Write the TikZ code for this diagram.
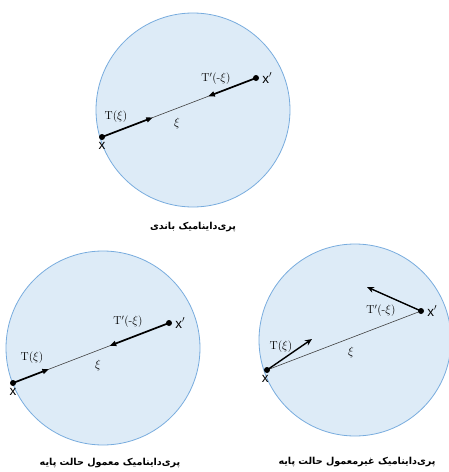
\documentclass[tikz,border=0pt]{standalone}
\usepackage{fontspec}
\setsansfont{Liberation Sans}
\newfontfamily\arabicfont[Script=Arabic]{DejaVu Sans}
\TeXXeTstate=1
\usetikzlibrary{arrows.meta,calc,positioning}

\definecolor{diskfill}{RGB}{221,235,247}
\definecolor{diskline}{RGB}{120,172,222}

\tikzset{
  disk/.style={fill=diskfill,draw=diskline,line width=0.8pt},
  bond/.style={line width=0.6pt,draw=black!75},
  force/.style={line width=1.7pt},
  tipmid/.style={-{Triangle[length=6.5pt,width=5pt]}},
  tipend/.style={-{Stealth[length=7pt,width=6pt]}},
  pt/.style={circle,fill=black,inner sep=0pt,minimum size=6pt},
  ptlabel/.style={font=\sffamily\fontsize{13.5}{15}\selectfont,inner sep=1pt},
  flabel/.style={font=\fontsize{11.5}{13}\selectfont,inner sep=1pt},
  xilabel/.style={font=\fontsize{13}{15}\selectfont,inner sep=1pt},
  caption/.style={font=\arabicfont\bfseries\fontsize{9.6}{11}\selectfont}
}

\begin{document}
\begin{tikzpicture}[x=1pt,y=-1pt]
  \useasboundingbox (0,0) rectangle (449,472);

  % Bond-based (top)
  \draw[disk] (193,110) circle (97);
  \coordinate (a) at (102,137);
  \coordinate (ap) at (256,78);
  \draw[bond] (a) -- (ap);
  \draw[force,tipmid] (a) -- ($(a)!0.33!(ap)$);
  \draw[force,tipmid] (ap) -- ($(a)!0.69!(ap)$);
  \node[pt] (adot) at (a) {};
  \node[pt] (apdot) at (ap) {};
  \node[ptlabel,below=1pt of adot] (ax) {x};
  \node[ptlabel,right=2pt of apdot] (apx) {x$^{\prime}$};
  \node[flabel] (aT) at (116,117) {T($\xi$)};
  \node[xilabel] (axi) at (177,123) {$\xi$};
  \node[flabel] (aTp) at (216,79) {T$^{\prime}$(-$\xi$)};
  \node[caption] (capa) at (193,227) {\beginR پری‌داینامیک باندی\endR};

  % Ordinary state-based (bottom left)
  \draw[disk] (103,348) circle (97);
  \coordinate (b) at (13,383);
  \coordinate (bp) at (169,323);
  \draw[bond] (b) -- (bp);
  \draw[force,tipmid] (b) -- ($(b)!0.23!(bp)$);
  \draw[force,tipmid] (bp) -- ($(b)!0.62!(bp)$);
  \node[pt] (bdot) at (b) {};
  \node[pt] (bpdot) at (bp) {};
  \node[ptlabel,below=1pt of bdot] (bx) {x};
  \node[ptlabel,right=2pt of bpdot] (bpx) {x$^{\prime}$};
  \node[flabel] (bT) at (32,358) {T($\xi$)};
  \node[xilabel] (bxi) at (98,365) {$\xi$};
  \node[flabel] (bTp) at (128,322) {T$^{\prime}$(-$\xi$)};
  \node[caption] (capb) at (110,463) {\beginR پری‌داینامیک معمول حالت پایه\endR};

  % Non-ordinary state-based (bottom right)
  \draw[disk] (355,340) circle (96);
  \coordinate (c) at (267,370);
  \coordinate (cp) at (421,311);
  \coordinate (cT) at (312,339);
  \coordinate (cTp) at (367,287);
  \draw[bond] (c) -- (cp);
  \draw[force,tipend,line width=1.4pt] (c) -- (cT);
  \draw[force,tipend,line width=1.4pt] (cp) -- (cTp);
  \node[pt] (cdot) at (c) {};
  \node[pt] (cpdot) at (cp) {};
  \node[ptlabel,below left=2pt and -5pt of cdot] (cx) {x};
  \node[ptlabel,right=2pt of cpdot] (cpx) {x$^{\prime}$};
  \node[flabel] (cTl) at (281,347) {T($\xi$)};
  \node[xilabel] (cxi) at (351,352) {$\xi$};
  \node[flabel] (cTpl) at (381,311) {T$^{\prime}$(-$\xi$)};
  \node[caption] (capc) at (357,462) {\beginR پری‌داینامیک غیرمعمول حالت پایه\endR};
\end{tikzpicture}
\end{document}
